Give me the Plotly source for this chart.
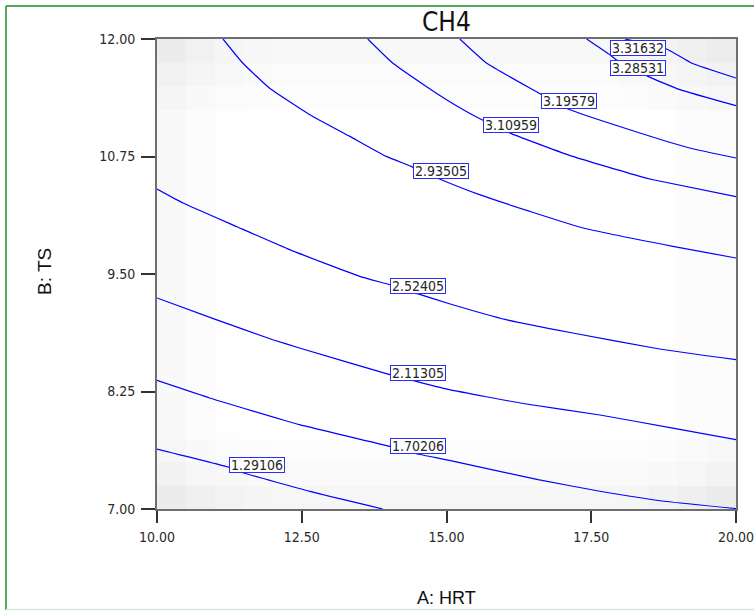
import plotly.graph_objects as go

# Response-surface contour levels of CH4 over A: HRT (x) and B: TS (y)
levels = [1.29106, 1.70206, 2.11305, 2.52405, 2.93505, 3.10959, 3.19579, 3.28531, 3.31632]

# Traced iso-lines: HRT values and matching TS values for each level
hrt_129 = [10.00, 11.25, 11.50, 12.64, 13.90]
ts_129 = [7.638, 7.443, 7.383, 7.187, 7.000]

hrt_170 = [10.00, 10.91, 12.46, 14.02, 14.48, 15.05, 16.58, 17.65, 18.80, 20.00]
ts_170 = [8.368, 8.181, 7.897, 7.666, 7.588, 7.517, 7.312, 7.189, 7.080, 7.005]

hrt_211 = [10.00, 11.02, 12.00, 12.46, 14.02, 14.48, 15.05, 16.35, 17.65, 18.86, 20.00]
ts_211 = [9.245, 9.014, 8.801, 8.713, 8.429, 8.357, 8.269, 8.120, 8.000, 7.865, 7.737]

hrt_252 = [10.00, 10.45, 11.37, 12.29, 13.50, 14.03, 14.51, 15.05, 16.03, 17.18, 18.68, 20.00]
ts_252 = [10.404, 10.255, 10.006, 9.759, 9.475, 9.385, 9.288, 9.184, 9.014, 8.872, 8.702, 8.588]

hrt_293 = [11.14, 11.48, 11.94, 12.64, 13.33, 13.96, 14.39, 14.88, 15.57, 16.44, 17.36, 18.91, 20.00]
ts_293 = [12.000, 11.745, 11.479, 11.195, 10.964, 10.751, 10.645, 10.511, 10.344, 10.166, 9.989, 9.794, 9.670]

hrt_310 = [13.64, 14.07, 14.65, 15.05, 15.52, 16.12, 17.18, 18.34, 18.57, 20.00]
ts_310 = [12.000, 11.745, 11.496, 11.336, 11.170, 10.993, 10.751, 10.538, 10.503, 10.322]

hrt_319 = [15.23, 15.69, 16.49, 17.10, 18.34, 19.20, 20.00]
ts_319 = [12.000, 11.745, 11.461, 11.255, 11.000, 10.840, 10.734]

hrt_328 = [17.42, 17.82, 17.93, 18.48, 19.03, 20.00]
ts_328 = [12.000, 11.833, 11.780, 11.602, 11.461, 11.290]

hrt_331 = [18.08, 18.80, 19.23, 20.00]
ts_331 = [12.000, 11.894, 11.745, 11.585]

lines_hrt = [hrt_129, hrt_170, hrt_211, hrt_252, hrt_293, hrt_310, hrt_319, hrt_328, hrt_331]
lines_ts = [ts_129, ts_170, ts_211, ts_252, ts_293, ts_310, ts_319, ts_328, ts_331]

# Where each level's value tag sits
label_hrt = [11.735, 14.506, 14.506, 14.506, 14.903, 16.113, 17.113, 18.302, 18.302]
label_ts = [7.471, 7.673, 8.450, 9.376, 10.596, 11.085, 11.344, 11.687, 11.907]

x_ticks = [10.0, 12.5, 15.0, 17.5, 20.0]
y_ticks = [7.0, 8.25, 9.5, 10.75, 12.0]

# Light grey backdrop, darker toward the edges of the design space (grey level 0-255)
shade_x_edges = [10, 10.5, 11, 11.5, 12, 18, 18.5, 19, 19.5, 20]
shade_y_edges = [7, 7.25, 7.5, 7.75, 11.25, 11.5, 11.75, 12]
shade_levels = [
    [236, 240, 243, 245, 246, 245, 242, 239, 236],
    [242, 246, 248, 249, 250, 250, 248, 246, 243],
    [246, 249, 251, 252, 253, 253, 252, 250, 248],
    [249, 252, 254, 255, 255, 255, 254, 252, 251],
    [245, 249, 251, 252, 253, 252, 250, 248, 246],
    [241, 245, 248, 250, 251, 249, 247, 245, 242],
    [236, 241, 245, 247, 248, 246, 243, 240, 237],
]

NARROW = "Liberation Sans Narrow, Arial Narrow, DejaVu Sans Condensed, Liberation Sans, Arial"
ARIAL = "Liberation Sans, Arial, sans-serif"

fig = go.Figure()

fig.add_trace(go.Heatmap(
    x=shade_x_edges, y=shade_y_edges, z=shade_levels,
    zmin=0, zmax=255, colorscale=[[0, "rgb(0,0,0)"], [1, "rgb(255,255,255)"]],
    showscale=False, hoverinfo="skip", zsmooth=False,
))

for xs, ys in zip(lines_hrt, lines_ts):
    fig.add_trace(go.Scatter(
        x=xs, y=ys, mode="lines",
        line=dict(color="#0000ff", width=1.2, shape="spline", smoothing=0.4),
        hoverinfo="skip", showlegend=False,
    ))

for lv, lx, ly in zip(levels, label_hrt, label_ts):
    fig.add_annotation(
        x=lx, y=ly, xref="x", yref="y", text=f"{lv:.5f}", showarrow=False,
        font=dict(family=NARROW, size=14, color="#262626"),
        bgcolor="white", bordercolor="#2b2bff", borderwidth=1, borderpad=0,
        width=54, height=14,
    )

# Outer green frame
W, H = 754, 611
L, R, T, B = 157, 18, 39, 102
pw, ph = W - L - R, H - T - B

def px(xpix):
    return (xpix - L) / pw

def py(ypix):
    return (H - B - ypix) / ph

fig.add_shape(type="line", xref="paper", yref="paper", x0=px(6), x1=px(6), y0=py(6), y1=py(610),
              line=dict(color="#1e8c1e", width=1.5))
fig.add_shape(type="line", xref="paper", yref="paper", x0=px(6), x1=px(760), y0=py(6), y1=py(6),
              line=dict(color="#1e8c1e", width=1.5))
fig.add_shape(type="line", xref="paper", yref="paper", x0=px(6), x1=px(760), y0=py(609.5), y1=py(609.5),
              line=dict(color="#d6ecd6", width=1.5))

# Titles
fig.add_annotation(x=0.5, y=py(22), xref="paper", yref="paper", text="CH4", showarrow=False,
                   font=dict(family=NARROW, size=26, color="#111111"), yanchor="middle")
fig.add_annotation(x=0.5, y=py(598), xref="paper", yref="paper", text="A: HRT", showarrow=False,
                   font=dict(family=ARIAL, size=18, color="#111111"), yanchor="middle")
fig.add_annotation(x=px(44), y=py(272), xref="paper", yref="paper", text="B: TS", showarrow=False,
                   textangle=-90, font=dict(family=ARIAL, size=19, color="#111111"),
                   xanchor="center", yanchor="middle")

axis_common = dict(
    showgrid=False, zeroline=False, showline=True, mirror=True, automargin=False,
    linecolor="#6e6e6e", linewidth=2,
    ticks="outside", tickcolor="#333333", tickwidth=1.5,
    tickformat=".2f", ticklabeloverflow="allow",
    tickfont=dict(family=NARROW, size=14, color="#2a2a2a"),
)

fig.update_xaxes(range=[10, 20], tickvals=x_ticks, ticklen=12, ticklabelstandoff=2, **axis_common)
fig.update_yaxes(range=[7, 12], tickvals=y_ticks, ticklen=14, ticklabelstandoff=3, **axis_common)

fig.update_layout(
    width=W, height=H, autosize=False,
    margin=dict(l=L, r=R, t=T, b=B, pad=0),
    paper_bgcolor="white", plot_bgcolor="white",
    showlegend=False,
)

fig.write_html("out.html")
